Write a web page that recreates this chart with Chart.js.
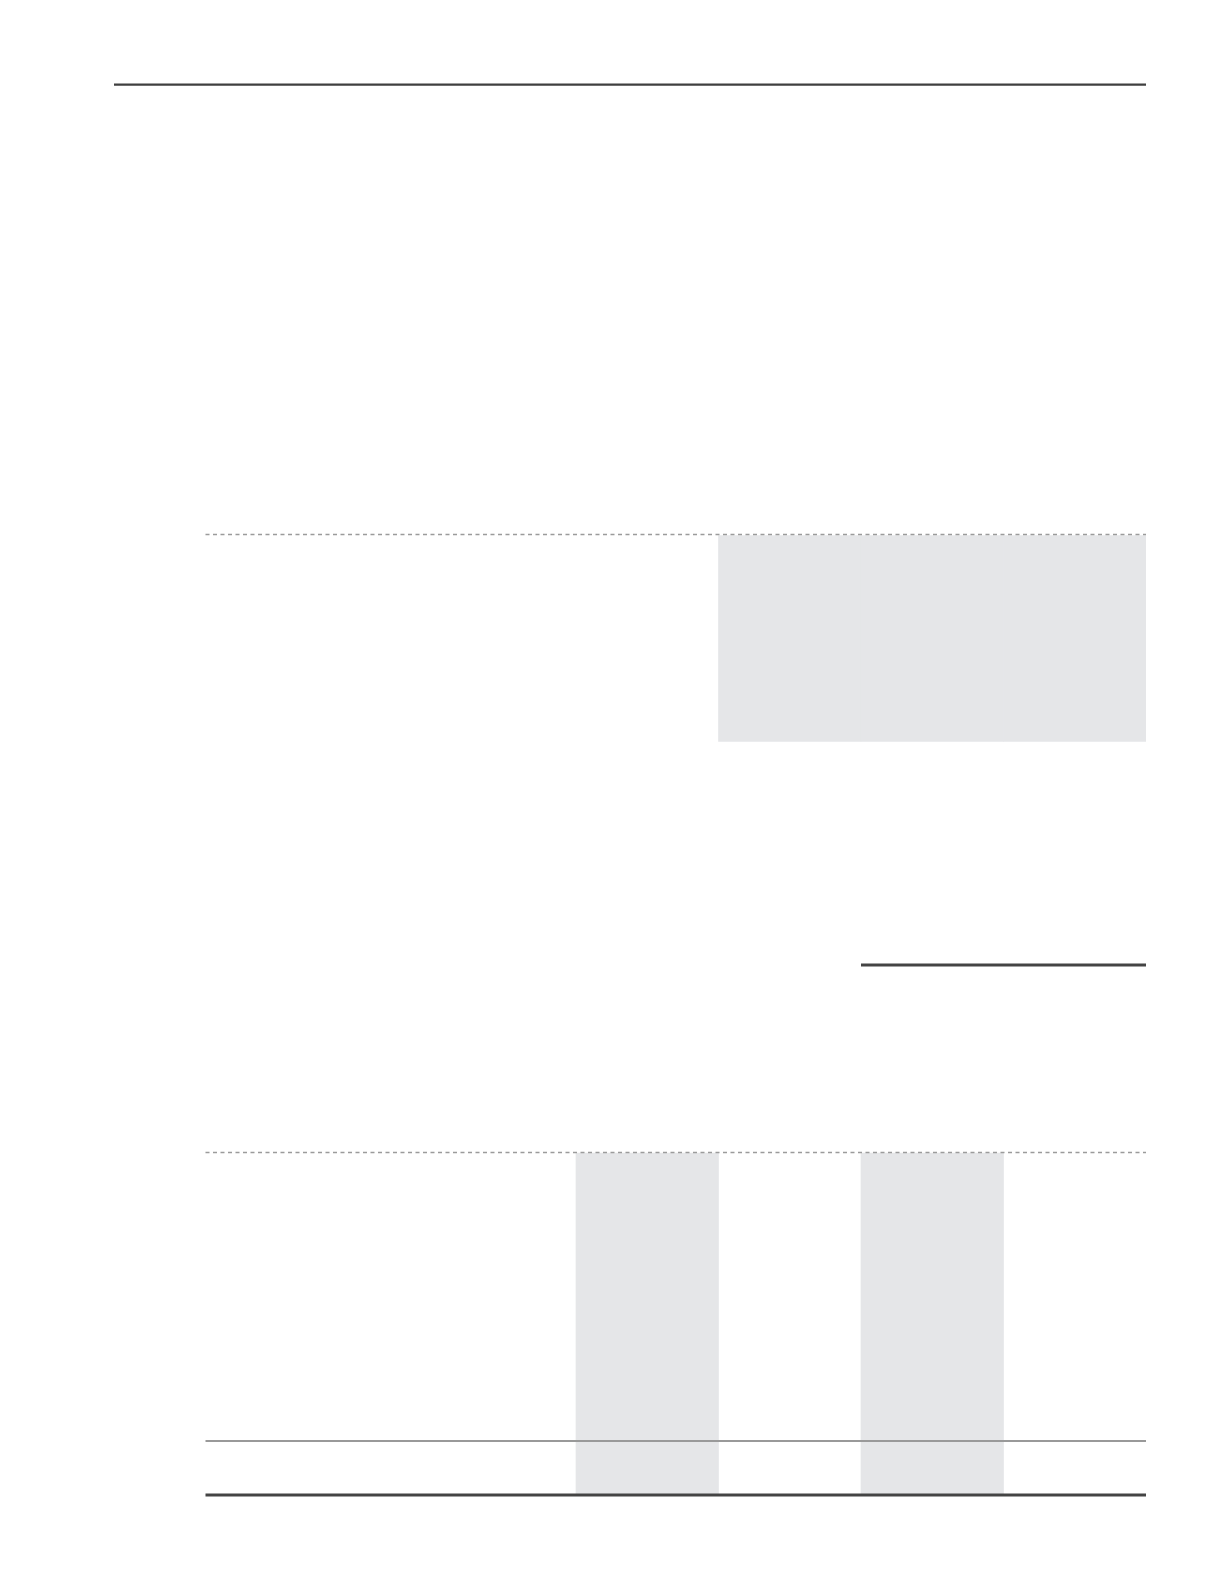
<!DOCTYPE html>
<html>
<head>
<meta charset="utf-8">
<title>Table shading</title>
<script src="https://cdn.jsdelivr.net/npm/chart.js@4"></script>
<style>
  html, body { margin: 0; padding: 0; background: #fff; overflow: hidden; }
  #wrap { width: 1230px; height: 1595px; }
</style>
</head>
<body>
<div id="wrap"><canvas id="chart" width="1230" height="1595"></canvas></div>
<script>
// shaded cells: column number (1-4) and top / bottom depth on the page
const shadedColumns = [2, 3, 4, 1, 3];
const shadedFrom = [535.5, 535.5, 535.5, 1153, 1153];
const shadedTo = [741.5, 741.5, 741.5, 1495, 1495];

// horizontal rules: depth, and column span (label column runs from -2.6 to 0)
const ruleDepth = [84.7, 534.5, 965, 1152.5, 1441, 1495];
const ruleFrom = [-3.2421, -2.6, 2, -2.6, -2.6, -2.6];
const ruleTo = [4, 4, 4, 4, 4, 4];
const ruleKind = ['header', 'dashed', 'heavy', 'dashed', 'thin', 'heavy'];

const columnEdges = [0, 1, 2, 3, 4];

const ruleStyles = {
  header: { borderColor: '#3f3f3f', borderWidth: 2.2, borderDash: [] },
  heavy: { borderColor: '#444444', borderWidth: 3.2, borderDash: [] },
  dashed: { borderColor: '#9b9b9b', borderWidth: 1.6, borderDash: [4, 3.5] },
  thin: { borderColor: '#999999', borderWidth: 1.8, borderDash: [] }
};

const ruleSets = ruleDepth.map((d, i) => {
  const st = ruleStyles[ruleKind[i]];
  return {
    type: 'line',
    data: [{ x: ruleFrom[i], y: d }, { x: ruleTo[i], y: d }],
    borderColor: st.borderColor,
    borderWidth: st.borderWidth,
    borderDash: st.borderDash,
    borderCapStyle: 'butt',
    pointRadius: 0,
    fill: false,
    clip: false,
    order: 0
  };
});

const ctx = document.getElementById('chart').getContext('2d');

new Chart(ctx, {
  type: 'bar',
  data: {
    datasets: [
      {
        data: shadedColumns.map((c, i) => ({ x: c - 0.5, y: [shadedFrom[i], shadedTo[i]] })),
        backgroundColor: '#e5e6e8',
        borderWidth: 0,
        barPercentage: 1,
        categoryPercentage: 1,
        order: 1
      },
      ...ruleSets
    ]
  },
  options: {
    responsive: false,
    animation: false,
    devicePixelRatio: 1,
    layout: { autoPadding: false, padding: { left: 114, right: 84, top: 0, bottom: 0 } },
    plugins: { legend: { display: false }, tooltip: { enabled: false } },
    scales: {
      x: {
        type: 'linear',
        offset: false,
        min: -3.2421,
        max: 4,
        display: false,
        grid: { offset: false },
        afterBuildTicks: (scale) => {
          scale.ticks = columnEdges.map(v => ({ value: v }));
        }
      },
      y: {
        type: 'linear',
        offset: false,
        min: 0,
        max: 1595,
        reverse: true,
        display: false
      }
    }
  }
});
</script>
</body>
</html>
